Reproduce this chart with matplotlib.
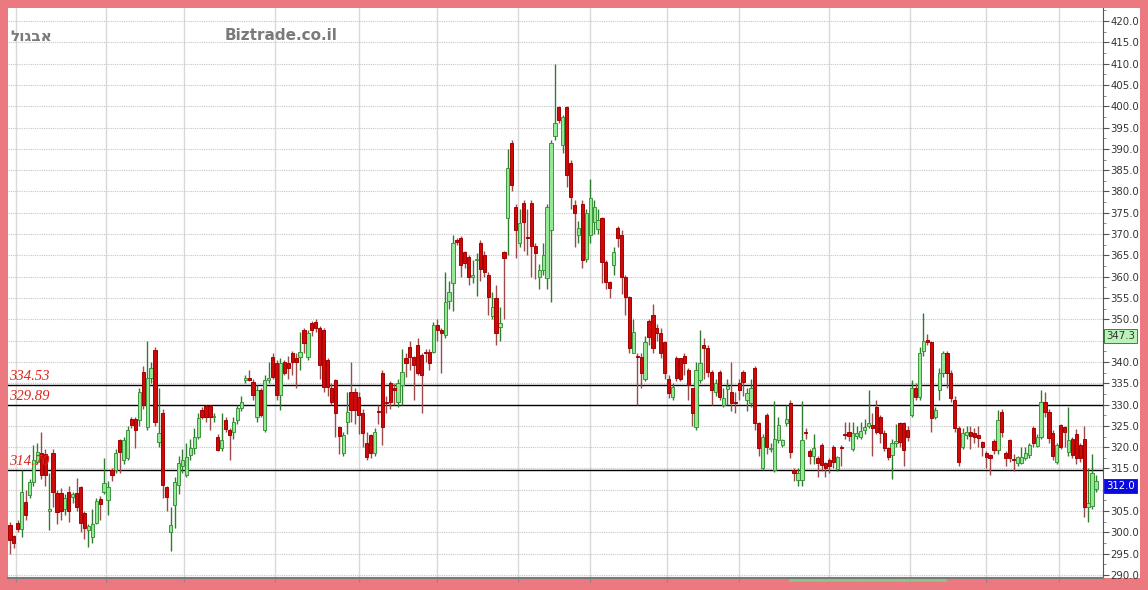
import numpy as np
import matplotlib.pyplot as plt
from matplotlib.lines import Line2D
from matplotlib.patches import Rectangle
from matplotlib.ticker import MultipleLocator, FormatStrFormatter

# daily candles (one entry per trading day)
opens = [
    301.7, 299.1, 302.2, 300.8, 307.2, 308.8, 311.8, 316.6, 318.7, 318.5,
    305.0, 318.7, 309.3, 309.3, 305.5, 309.5, 308.3, 309.3, 310.6, 304.5,
    300.6, 298.9, 302.2, 307.8, 309.5, 307.6, 314.7, 314.7, 321.7, 317.0,
    317.5, 326.6, 326.6, 326.4, 337.6, 324.8, 336.2, 342.8, 321.2, 328.0,
    310.6, 300.1, 306.4, 311.1, 315.5, 313.5, 318.2, 319.8, 322.4, 328.7,
    329.7, 329.7, 327.1, 322.4, 319.8, 326.4, 324.0, 323.6, 326.4, 329.2,
    335.8, 336.3, 335.3, 327.1, 333.4, 324.0, 335.8, 341.2, 339.7,
    332.3, 340.0, 339.7, 342.1, 341.0, 341.2, 347.5, 341.2, 349.1, 349.4,
    348.0, 347.5, 340.5, 333.9, 335.8, 324.7, 318.6, 326.0, 333.0, 333.0,
    331.8, 328.0, 321.0, 322.9, 318.6, 328.5, 337.4, 330.6, 335.0, 334.0,
    330.6, 334.6, 341.0, 343.6, 341.2, 344.0, 341.6, 342.2, 342.4, 342.4,
    348.7, 347.5, 346.3, 354.2, 358.5, 368.6, 369.1, 365.8, 364.6, 360.0,
    363.9, 368.0, 365.1, 360.4, 350.7, 355.0, 348.1, 365.8,
    373.8, 391.4, 376.3, 367.9, 377.3, 369.2, 377.3, 367.2, 360.0, 361.6,
    359.8, 371.0, 393.0, 399.8, 391.0, 399.8, 386.7, 376.8, 369.8, 377.0,
    364.2, 369.8, 372.8, 371.3, 373.7, 363.5, 358.8, 362.8, 371.4,
    369.8, 360.0, 355.2, 342.2, 341.3, 341.2, 335.9, 349.6, 351.0, 348.0,
    346.8, 344.7, 336.0, 331.8, 340.9, 340.9, 341.4, 338.1, 333.9, 324.7,
    335.8, 344.0, 343.3, 337.6, 333.0, 337.6, 330.0, 333.6, 333.0, 330.4,
    335.0, 337.6, 331.1, 330.4, 338.6, 325.7, 315.1, 327.5, 319.5, 314.7,
    321.7, 320.5, 325.7, 330.4, 314.7, 312.3, 312.3, 323.5, 319.1, 317.9,
    317.5, 320.5, 316.3,
    317.0, 320.0, 314.8, 320.0, 323.1, 323.5, 319.6, 322.7, 322.4, 324.0,
    325.0, 325.2, 329.4, 327.1, 323.3, 319.8, 318.1, 321.0, 325.7, 325.7,
    324.0, 327.5, 333.9, 331.8, 342.5, 345.2, 344.7, 327.1, 333.4, 337.4,
    342.1, 337.4, 331.1, 324.5, 320.0, 322.9, 323.5, 323.4, 322.9, 321.2,
    318.6, 318.1, 321.4, 319.4, 328.3, 318.6, 321.7, 317.1, 316.3, 316.3,
    317.5, 318.1, 324.5, 320.3, 322.4, 330.6, 328.3, 323.3, 316.6, 325.2,
    324.8, 318.9, 321.9, 323.0, 320.5, 322.0, 306.0, 306.2, 310.3,
]

highs = [
    302.5, 299.5, 303.0, 314.7, 310.0, 312.5, 320.5, 321.0, 323.6, 319.5,
    314.0, 319.5, 310.0, 310.5, 309.0, 311.0, 309.5, 312.8, 311.0, 305.0,
    302.0, 305.5, 308.0, 308.5, 317.5, 312.0, 315.0, 319.5, 322.0, 322.5,
    325.0, 327.0, 327.0, 334.0, 339.0, 344.8, 340.0, 343.5, 334.0, 329.0,
    311.0, 306.0, 313.0, 318.0, 319.5, 321.0, 322.0, 324.5, 328.0, 329.5,
    330.0, 330.0, 328.0, 323.0, 328.0, 327.0, 324.5, 327.0, 330.0, 332.0,
    337.0, 338.0, 336.0, 334.5, 334.0, 337.0, 340.0, 342.0, 340.5,
    341.0, 340.5, 341.5, 342.5, 342.2, 347.0, 348.0, 347.5, 349.5, 350.0,
    348.5, 348.0, 341.0, 335.0, 336.0, 325.0, 323.5, 333.0, 340.0, 334.0,
    333.0, 329.0, 323.5, 323.0, 324.5, 330.0, 338.0, 332.0, 335.5, 335.0,
    336.0, 343.0, 342.0, 345.0, 341.5, 345.5, 342.0, 343.0, 343.0, 349.3,
    350.0, 348.0, 361.0, 359.0, 369.7, 369.0, 369.5, 366.0, 365.0, 364.0,
    365.5, 368.5, 366.0, 361.0, 356.5, 358.0, 353.0, 366.0,
    390.0, 392.0, 377.0, 376.0, 378.0, 376.0, 378.0, 368.0, 363.0, 368.0,
    377.0, 392.0, 409.8, 400.0, 398.0, 400.0, 387.5, 378.0, 373.0, 378.0,
    376.0, 383.0, 378.0, 376.0, 374.0, 364.0, 359.0, 367.0, 372.0,
    371.0, 360.5, 355.5, 350.0, 342.0, 342.0, 346.0, 350.0, 353.5, 349.0,
    348.0, 345.0, 337.0, 335.0, 341.5, 341.0, 342.0, 338.5, 334.0, 340.0,
    347.4, 345.5, 344.0, 338.0, 336.0, 338.0, 334.0, 336.0, 340.0, 333.0,
    336.0, 338.0, 334.0, 336.0, 339.0, 326.0, 323.0, 328.0, 321.0, 330.8,
    327.0, 322.0, 330.0, 331.0, 315.0, 315.0, 330.8, 324.5, 319.5, 323.0,
    318.0, 321.0, 316.5,
    317.5, 320.5, 318.0, 320.5, 326.0, 326.0, 326.0, 325.0, 326.0, 326.5,
    333.5, 328.0, 331.0, 327.5, 324.0, 320.0, 322.0, 325.5, 326.0, 326.0,
    325.0, 335.8, 335.0, 343.5, 351.5, 346.5, 345.0, 329.5, 338.5, 342.5,
    342.5, 338.0, 332.0, 325.0, 324.5, 325.0, 325.0, 324.5, 325.0, 321.5,
    319.0, 318.5, 322.0, 328.7, 329.0, 319.0, 322.0, 318.5, 318.0, 320.0,
    320.0, 321.0, 325.0, 323.0, 333.3, 333.0, 329.0, 324.0, 321.0, 325.5,
    325.0, 329.5, 322.5, 324.3, 321.0, 325.0, 315.0, 318.5, 313.5,
]

lows = [
    295.0, 296.4, 300.0, 299.0, 303.0, 308.0, 311.0, 316.0, 312.5, 311.0,
    300.6, 306.0, 302.0, 303.0, 304.0, 302.4, 307.0, 305.0, 300.0, 298.5,
    296.6, 297.5, 302.0, 303.0, 309.0, 304.0, 312.0, 314.0, 314.0, 316.0,
    317.0, 324.5, 319.8, 325.0, 329.0, 324.0, 335.0, 325.0, 320.0, 308.0,
    305.0, 295.6, 301.0, 309.0, 314.0, 313.0, 317.0, 318.5, 322.0, 326.5,
    326.0, 324.0, 326.0, 319.0, 319.0, 323.5, 317.0, 322.0, 325.5, 328.5,
    335.0, 335.5, 331.0, 326.0, 327.0, 323.5, 335.0, 336.0, 331.0,
    328.7, 337.0, 336.0, 337.0, 334.0, 338.0, 342.0, 340.5, 346.0, 347.0,
    336.0, 333.0, 332.0, 330.0, 322.5, 318.5, 318.0, 323.0, 326.0, 325.5,
    323.0, 320.0, 317.0, 317.5, 318.0, 325.5, 320.5, 328.0, 329.0, 330.0,
    329.5, 330.0, 336.5, 338.0, 331.0, 337.0, 328.0, 340.0, 338.0, 342.0,
    345.0, 337.5, 345.5, 352.5, 352.0, 367.5, 360.0, 362.0, 358.0, 358.5,
    355.5, 359.0, 360.0, 351.0, 350.0, 344.0, 345.0, 350.0,
    365.0, 380.0, 364.5, 367.0, 366.0, 365.0, 360.0, 359.5, 357.0, 360.5,
    357.0, 354.0, 392.0, 396.0, 389.0, 381.0, 376.0, 367.0, 368.0, 362.0,
    363.5, 368.0, 370.0, 370.0, 358.5, 357.0, 355.0, 360.5, 367.0,
    356.0, 351.0, 342.0, 342.0, 329.9, 334.0, 335.5, 344.0, 342.0, 345.0,
    341.0, 336.0, 331.5, 331.0, 335.5, 335.5, 337.0, 331.0, 325.0, 324.0,
    335.0, 336.0, 336.5, 330.0, 332.0, 331.0, 329.5, 330.0, 328.5, 328.0,
    331.0, 332.0, 328.5, 329.5, 324.0, 318.0, 314.7, 318.5, 318.8, 314.2,
    321.0, 320.0, 325.0, 317.5, 312.0, 311.0, 311.0, 322.0, 316.0, 316.0,
    313.0, 314.5, 313.0,
    314.0, 315.0, 314.5, 315.5, 322.0, 321.5, 319.0, 322.0, 322.0, 323.0,
    324.5, 318.0, 323.0, 321.0, 319.0, 317.0, 312.5, 320.0, 320.0, 315.5,
    321.5, 327.0, 331.0, 331.0, 341.5, 344.0, 323.5, 326.5, 331.0, 336.5,
    334.0, 330.5, 323.5, 315.5, 319.5, 322.0, 319.5, 321.0, 320.0, 318.0,
    315.0, 313.5, 318.5, 318.5, 322.5, 315.5, 316.5, 314.5, 315.5, 316.0,
    317.0, 317.5, 320.0, 320.0, 322.0, 327.0, 321.0, 317.0, 316.0, 319.5,
    320.0, 318.0, 317.5, 316.0, 316.5, 303.5, 302.5, 305.5, 309.5,
]

closes = [
    298.2, 297.6, 300.8, 309.5, 304.1, 311.8, 317.0, 318.9, 313.5, 313.5,
    305.5, 309.5, 304.8, 305.0, 308.0, 305.0, 309.0, 306.0, 302.3, 301.0,
    301.5, 301.9, 307.4, 306.6, 311.7, 310.7, 313.5, 318.7, 318.9, 321.7,
    324.0, 325.2, 324.0, 333.0, 329.9, 336.2, 338.6, 326.0, 323.3, 311.1,
    308.3, 301.8, 311.8, 316.2, 317.0, 317.7, 319.8, 322.4, 326.9, 327.1,
    327.1, 327.0, 327.3, 319.4, 321.7, 324.3, 322.9, 325.9, 329.2, 330.6,
    336.2, 335.8, 332.3, 333.4, 327.5, 335.8, 336.3, 336.5, 332.3,
    339.7, 337.4, 338.6, 340.0, 340.0, 342.3, 344.5, 346.8, 347.5, 348.0,
    339.3, 334.1, 334.1, 330.6, 328.0, 322.6, 322.9, 328.3, 328.7, 328.7,
    327.6, 323.3, 317.7, 318.6, 323.5, 328.2, 324.8, 330.4, 330.6, 333.3,
    335.0, 337.6, 339.8, 341.2, 339.3, 337.4, 337.0, 342.1, 339.8, 348.7,
    347.5, 346.8, 354.0, 356.3, 368.0, 368.1, 362.8, 363.2, 360.0, 360.4,
    364.0, 361.9, 361.1, 355.2, 353.0, 346.8, 349.2, 364.4,
    385.5, 381.6, 371.0, 372.6, 372.8, 369.0, 367.2, 365.6, 361.6, 365.1,
    376.4, 391.4, 396.1, 396.8, 397.5, 383.9, 378.7, 375.0, 371.4, 364.0,
    375.0, 378.5, 376.4, 373.3, 363.5, 358.8, 357.4, 365.8, 369.1,
    360.0, 355.2, 343.3, 347.1, 341.1, 337.4, 344.7, 345.9, 343.3, 346.8,
    342.1, 337.4, 332.7, 334.1, 336.2, 336.0, 339.8, 334.6, 328.0, 338.1,
    339.8, 343.3, 337.6, 333.4, 335.0, 331.8, 331.5, 334.4, 330.4, 330.3,
    333.4, 335.3, 332.7, 333.9, 325.7, 319.8, 322.4, 320.0, 319.9, 322.0,
    325.2, 321.7, 326.6, 318.9, 313.9, 314.0, 321.7, 323.3, 317.9, 319.8,
    316.3, 315.9, 315.0,
    315.5, 316.5, 317.6, 319.8, 322.9, 322.6, 323.4, 323.4, 323.8, 324.7,
    325.6, 324.6, 323.6, 323.3, 319.8, 317.7, 321.0, 321.5, 321.2, 319.4,
    322.4, 333.9, 331.8, 342.1, 344.9, 344.7, 326.8, 328.7, 337.4, 342.1,
    337.4, 331.5, 324.5, 316.5, 323.3, 323.5, 322.6, 322.5, 322.2, 320.1,
    317.7, 317.4, 319.3, 326.4, 323.6, 317.4, 317.5, 317.0, 317.7, 317.6,
    318.6, 320.5, 321.0, 322.4, 330.6, 328.3, 322.1, 317.9, 320.5, 320.1,
    323.6, 321.6, 318.1, 317.5, 317.5, 306.0, 307.0, 314.0, 312.0,
]

# month boundaries (in trading-day units) where the vertical grid lines sit
month_lines = [1.5, 24.5, 44.5, 67.5, 89, 109, 129.5, 148, 167.5, 186, 209, 229.5, 249, 267.5]

levels = [334.53, 329.89, 314.70]
high_mark = 347.3
last_price = 312.0

n = len(closes)
assert len(opens) == len(highs) == len(lows) == n, (len(opens), len(highs), len(lows), n)

o = np.array(opens)
h = np.array(highs)
l = np.array(lows)
c = np.array(closes)
x = np.arange(n)
up = c >= o

W, H = 1148, 590
fig = plt.figure(figsize=(W / 100, H / 100), dpi=100)
fig.patch.set_facecolor('#ec7880')
fig.patches.append(Rectangle((8 / W, 12 / H), 1132 / W, 570 / H, transform=fig.transFigure,
                             facecolor='white', edgecolor='none', zorder=-10))

ax = fig.add_axes([8 / W, 12 / H, 1095 / W, 570 / H])
ax.set_zorder(1)
ax.set_facecolor('white')
ax.set_xlim(-0.5, 278.8)
ax.set_ylim(289.3, 423.05)

# grid
ax.set_yticks(np.arange(290, 421, 5))
ax.yaxis.set_minor_locator(MultipleLocator(2.5))
ax.yaxis.set_major_formatter(FormatStrFormatter('%.1f'))
ax.set_xticks(month_lines)
ax.set_xticklabels([])
ax.grid(axis='y', color='#c6c6c6', linestyle=(0, (1, 1)), linewidth=0.8, zorder=0)
ax.grid(axis='x', color='#d9d9d9', linestyle='-', linewidth=1.0, zorder=0)
ax.set_axisbelow(True)

ax.yaxis.tick_right()
ax.tick_params(axis='y', which='major', length=4, width=0.8, color='#555555',
               labelsize=7.3, labelcolor='#333333', pad=1.5)
ax.tick_params(axis='y', which='minor', length=2, width=0.6, color='#777777')
ax.tick_params(axis='x', length=3, width=0.8, color='#888888', direction='out')
for s in ['left', 'top']:
    ax.spines[s].set_visible(False)
ax.spines['right'].set_color('#555555')
ax.spines['right'].set_linewidth(0.8)
ax.spines['bottom'].set_color('#7a7a7a')
ax.spines['bottom'].set_linewidth(1.5)

# support / resistance lines with their labels
for lv in levels:
    ax.axhline(lv, color='black', linewidth=1.0, zorder=2)
    ax.annotate(f'{lv:.2f}', xy=(0, lv), xycoords=('axes fraction', 'data'),
                xytext=(0.5, 1.5), textcoords='offset points', ha='left', va='bottom',
                color='#e2231a', fontsize=10.5, fontstyle='italic',
                family='Liberation Serif', zorder=5)

# candles
lo_w = np.minimum(l, np.minimum(o, c))
hi_w = np.maximum(h, np.maximum(o, c))
body_lo = np.minimum(o, c)
body_h = np.maximum(np.abs(c - o), 0.3)
ax.vlines(x[up], lo_w[up], hi_w[up], color='#2e7d2e', linewidth=1.0, zorder=3)
ax.vlines(x[~up], lo_w[~up], hi_w[~up], color='#9e4a4a', linewidth=1.0, zorder=3)
ax.bar(x[up], body_h[up], 0.82, bottom=body_lo[up], color='#95e895',
       edgecolor='#3c963c', linewidth=0.7, zorder=4)
ax.bar(x[~up], body_h[~up], 0.82, bottom=body_lo[~up], color='#cc0a0a',
       edgecolor='#a60000', linewidth=0.7, zorder=4)

# price tags on the right axis (they cover the tick label underneath)
ax.annotate(f'{high_mark:.1f}', xy=(1, high_mark), xycoords=('axes fraction', 'data'),
            xytext=(2.5, 0), textcoords='offset points', ha='left', va='top',
            fontsize=7.3, color='#333333', annotation_clip=False, zorder=10,
            bbox=dict(boxstyle='square,pad=0.2', fc='#b9f3b9', ec='#2a6a2a', lw=0.6))
ax.annotate(f'{last_price:.1f}', xy=(1, last_price), xycoords=('axes fraction', 'data'),
            xytext=(2.5, 0), textcoords='offset points', ha='left', va='top',
            fontsize=7.3, color='white', annotation_clip=False, zorder=10,
            bbox=dict(boxstyle='square,pad=0.2', fc='#0a0ae0', ec='#0a0ae0', lw=0.6))
for lbl in ax.get_yticklabels():
    val = float(lbl.get_text().replace('−', '-') or 0)
    if abs(val - 345) < 0.1 or abs(val - 310) < 0.1:
        lbl.set_visible(False)

# header texts
fig.text(10 / W, 1 - 36 / H, 'לוגבא', ha='left', va='center', fontsize=11,
         fontweight='bold', color='#7a7a7a', family=['DejaVu Sans', 'Noto Sans'])
fig.text(225 / W, 1 - 36 / H, 'Biztrade.co.il', ha='left', va='center', fontsize=11,
         fontweight='bold', color='#7a7a7a')

# little green marker on the bottom frame
fig.lines.append(Line2D([790 / W, 945 / W], [10 / H, 10 / H], transform=fig.transFigure,
                        color='#8cc48c', linewidth=2))

fig.savefig('out.png', dpi=100, facecolor=fig.get_facecolor())
